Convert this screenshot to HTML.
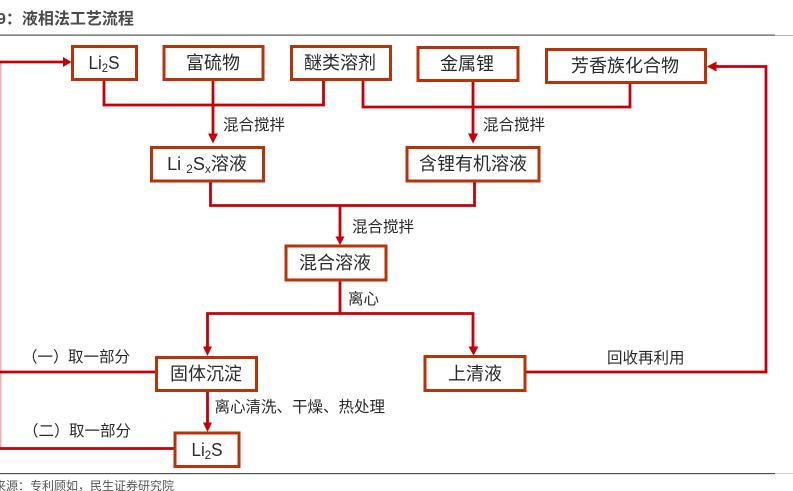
<!DOCTYPE html>
<html><head><meta charset="utf-8"><style>
html,body{margin:0;padding:0;background:#fff;width:793px;height:491px;overflow:hidden}
svg{display:block}
text{font-family:"Liberation Sans","Noto Sans CJK SC",sans-serif;fill:#2a2a2a}
.b{fill:#fff;stroke:#b93208;stroke-width:3}
.l{fill:none;stroke:#c40008;stroke-width:2.800}
.a{fill:#c40008}
.t{font-size:18px;text-anchor:middle}
.s{font-size:15.500px}
</style></head><body>
<svg width="793" height="491" viewBox="0 0 793 491" xmlns="http://www.w3.org/2000/svg">
<text x="-3" y="24" style="font-size:16px;font-weight:bold;fill:#4a4a4a">9&#xFF1A;液相法工艺流程</text>
<rect x="0" y="34.500" width="775" height="1.200" fill="#555"/>
<rect x="775" y="35" width="18" height="1" fill="#bbb"/>
<rect x="0" y="473" width="775" height="1.200" fill="#555"/>
<rect x="775" y="473" width="18" height="1" fill="#ccc"/>
<text x="-6" y="490" style="font-size:12px;fill:#555">来源&#xFF1A;专利顾如&#xFF0C;民生证券研究院</text>

<rect x="0" y="62" width="1.500" height="387" fill="#f0b0b0"/>
<path class="l" d="M0 62H65"/><path class="a" d="M63 57L71.500 62L63 67Z"/>
<path class="l" d="M104 80V105H323.500V80"/>
<path class="l" d="M213 80V136"/><path class="a" d="M208 133.500L213 143.500L218 133.500Z"/>
<path class="l" d="M363 80V107H630V83"/>
<path class="l" d="M473 81V136"/><path class="a" d="M468 133.500L473 143.500L478 133.500Z"/>
<path class="l" d="M210.500 182V205.500H474.500V182"/>
<path class="l" d="M340 205V238"/><path class="a" d="M335.500 236.500L340 245L344.500 236.500Z"/>
<path class="l" d="M340 281V313.500"/>
<path class="l" d="M473 348V313.500H207.500V348"/>
<path class="a" d="M203 346.500L207.500 356L212 346.500Z"/><path class="a" d="M468.500 346.500L473.500 355.500L478.500 346.500Z"/>
<path class="l" d="M0 372H155"/>
<path class="l" d="M207.500 391V425"/><path class="a" d="M203 422.500L207.500 432L212 422.500Z"/>
<path class="l" d="M0 448.500H174"/>
<path class="l" d="M526 372H766V66.500H714"/><path class="a" d="M716.500 61.500L707 66.500L716.500 71.500Z"/>

<rect class="b" x="72.500" y="46.500" width="64" height="33"/>
<rect class="b" x="164" y="46.500" width="99" height="33"/>
<rect class="b" x="291.500" y="46.500" width="99" height="33"/>
<rect class="b" x="418" y="47.500" width="100" height="33"/>
<rect class="b" x="546.500" y="49.500" width="159" height="33"/>
<rect class="b" x="151.500" y="147.500" width="112" height="33.500"/>
<rect class="b" x="407" y="147.500" width="132" height="33.500"/>
<rect class="b" x="286" y="246" width="100" height="34"/>
<rect class="b" x="156.500" y="357.500" width="100" height="33"/>
<rect class="b" x="425" y="356.500" width="100" height="34"/>
<rect class="b" x="175" y="433" width="64" height="33.500"/>

<text class="t" x="104" y="69" textLength="31" lengthAdjust="spacingAndGlyphs">Li<tspan font-size="12" dy="3">2</tspan><tspan dy="-3">S</tspan></text>
<text class="t" x="213" y="69">富硫物</text>
<text class="t" x="340" y="69">醚类溶剂</text>
<text class="t" x="467" y="70">金属锂</text>
<text class="t" x="625" y="72">芳香族化合物</text>
<text class="t" x="207" y="170">Li <tspan font-size="12" dy="3">2</tspan><tspan dy="-3">S</tspan><tspan font-size="12" dy="3">x</tspan><tspan dy="-3">溶液</tspan></text>
<text class="t" x="473" y="170">含锂有机溶液</text>
<text class="t" x="335" y="269">混合溶液</text>
<text class="t" x="206" y="380">固体沉淀</text>
<text class="t" x="475" y="380">上清液</text>
<text class="t" x="207" y="456" textLength="31" lengthAdjust="spacingAndGlyphs">Li<tspan font-size="12" dy="3">2</tspan><tspan dy="-3">S</tspan></text>

<text class="s" x="223" y="130">混合搅拌</text>
<text class="s" x="483" y="130">混合搅拌</text>
<text class="s" x="352" y="232">混合搅拌</text>
<text class="s" x="348" y="304">离心</text>
<text class="s" x="22" y="362">&#xFF08;一&#xFF09;</text><text class="s" x="68" y="362">取一部分</text>
<text class="s" x="23" y="436">&#xFF08;二&#xFF09;</text><text class="s" x="69" y="436">取一部分</text>
<text class="s" x="214.500" y="412">离心清洗、干燥、热处理</text>
<text class="s" x="607" y="363">回收再利用</text>
</svg>
</body></html>
